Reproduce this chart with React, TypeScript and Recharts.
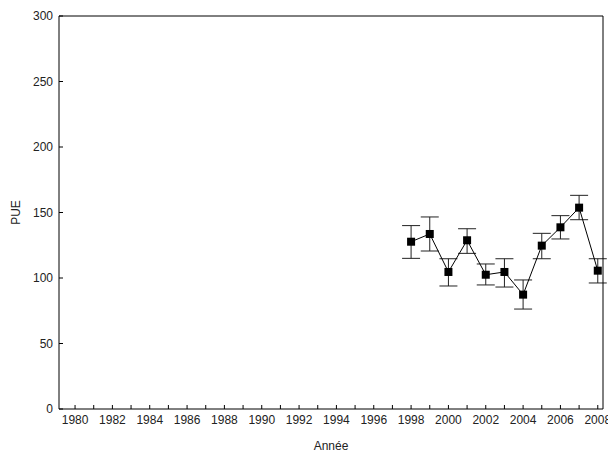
import React from 'react';
import { LineChart, Line, XAxis, YAxis, ErrorBar } from 'recharts';

const years = [1998, 1999, 2000, 2001, 2002, 2003, 2004, 2005, 2006, 2007, 2008];
const pue = [127.7, 133.6, 104.6, 128.8, 102.5, 104.6, 87.3, 124.7, 138.7, 153.7, 105.6];
const errLow = [12.7, 13, 10.7, 10, 7.8, 11.5, 11, 10, 8.9, 9.2, 9.4];
const errHigh = [12.3, 13, 10.1, 8.8, 8.2, 10.1, 11.2, 9.4, 8.9, 9.4, 9.1];

const xTicks = [
  1980, 1981, 1982, 1983, 1984, 1985, 1986, 1987, 1988, 1989, 1990, 1991, 1992, 1993, 1994,
  1995, 1996, 1997, 1998, 1999, 2000, 2001, 2002, 2003, 2004, 2005, 2006, 2007, 2008,
];
const yTicks = [0, 50, 100, 150, 200, 250, 300];

const chartData = years.map((year, i) => ({ year, pue: pue[i], err: [errLow[i], errHigh[i]] }));

const font = { fontFamily: '"Liberation Sans", Arial, sans-serif', fontSize: 12, fill: '#222' };

// tickSize 4 + tickMargin 4 => tick props sit 8px off the axis line
const BottomTick = (props: any) => {
  const { x, y, payload } = props;
  const axisY = y - 8;
  return (
    <g>
      <line x1={x} y1={axisY} x2={x} y2={axisY - 4} stroke="#000" />
      {payload.value % 2 === 0 && (
        <text x={x} y={axisY + 15} textAnchor="middle" style={font}>
          {payload.value}
        </text>
      )}
    </g>
  );
};

const TopTick = (props: any) => {
  const { x, y } = props;
  const axisY = y + 8;
  return <line x1={x} y1={axisY} x2={x} y2={axisY + 4} stroke="#000" />;
};

const LeftTick = (props: any) => {
  const { x, y, payload } = props;
  const axisX = x + 8;
  return (
    <g>
      <line x1={axisX} y1={y} x2={axisX + 4} y2={y} stroke="#000" />
      <text x={axisX - 6} y={y + 4} textAnchor="end" style={font}>
        {payload.value}
      </text>
    </g>
  );
};

const RightTick = (props: any) => {
  const { x, y } = props;
  const axisX = x - 8;
  return <line x1={axisX} y1={y} x2={axisX - 4} y2={y} stroke="#000" />;
};

const SquareDot = (props: any) => {
  const { cx, cy, index } = props;
  return <rect key={index} x={cx - 4} y={cy - 4} width={8} height={8} fill="#000" />;
};

const xDomain = [1979.14, 2008.28];

export default function App() {
  return (
    <div style={{ position: 'absolute', left: 0, top: 0, background: '#fff' }}>
      <LineChart width={608} height={455} data={chartData} margin={{ top: 0, right: 0, bottom: 0, left: 0 }}>
        <XAxis
          xAxisId="b"
          dataKey="year"
          type="number"
          domain={xDomain}
          ticks={xTicks}
          interval={0}
          height={46}
          tickSize={4}
          tickMargin={4}
          tickLine={false}
          axisLine={{ stroke: '#000' }}
          tick={<BottomTick />}
          label={{ value: 'Année', position: 'insideBottom', offset: 5, style: font }}
        />
        <XAxis
          xAxisId="t"
          orientation="top"
          type="number"
          domain={xDomain}
          ticks={xTicks}
          interval={0}
          height={16}
          tickSize={4}
          tickMargin={4}
          tickLine={false}
          axisLine={{ stroke: '#000' }}
          tick={<TopTick />}
        />
        <YAxis
          yAxisId="l"
          type="number"
          domain={[0, 300]}
          ticks={yTicks}
          interval={0}
          width={59}
          tickSize={4}
          tickMargin={4}
          tickLine={false}
          axisLine={{ stroke: '#000' }}
          tick={<LeftTick />}
          label={{ value: 'PUE', angle: -90, position: 'insideLeft', offset: 16, style: { ...font, textAnchor: 'middle' } }}
        />
        <YAxis
          yAxisId="r"
          orientation="right"
          type="number"
          domain={[0, 300]}
          ticks={yTicks}
          interval={0}
          width={5}
          tickSize={4}
          tickMargin={4}
          tickLine={false}
          axisLine={{ stroke: '#000' }}
          tick={<RightTick />}
        />
        <Line
          xAxisId="b"
          yAxisId="l"
          type="linear"
          dataKey="pue"
          stroke="#000"
          strokeWidth={1}
          dot={SquareDot}
          activeDot={false}
          isAnimationActive={false}
        >
          <ErrorBar dataKey="err" width={9} stroke="#222" strokeWidth={1} isAnimationActive={false} />
        </Line>
      </LineChart>
    </div>
  );
}
